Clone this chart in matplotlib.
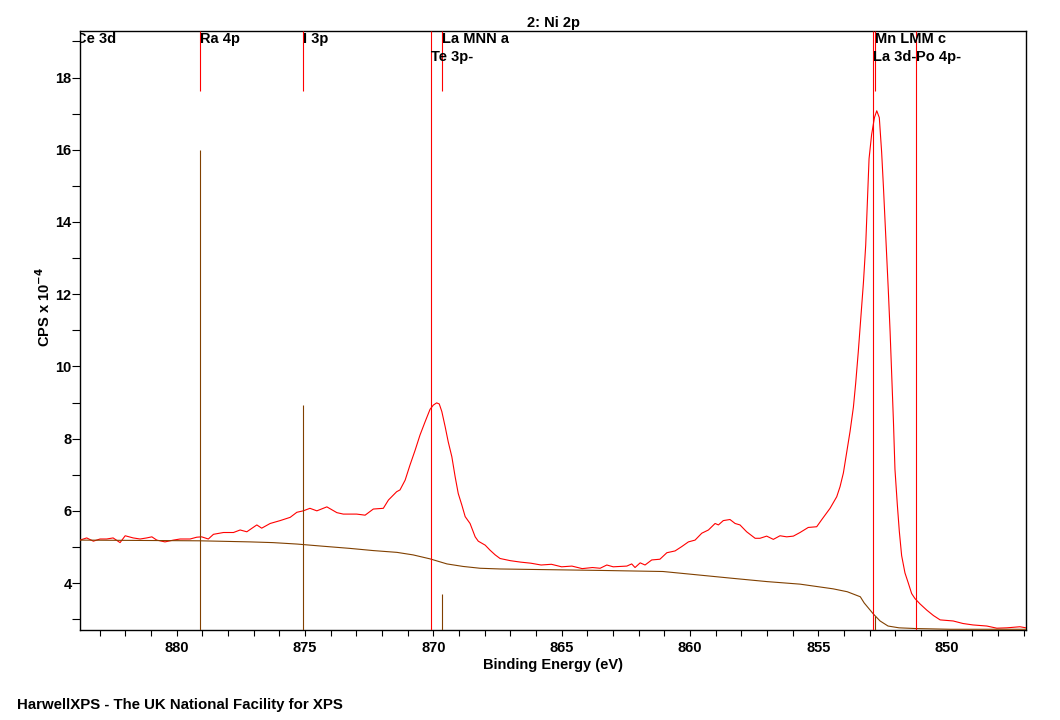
import matplotlib
matplotlib.use("Agg")
import matplotlib.pyplot as plt
from matplotlib.ticker import MultipleLocator

plt.rcParams["font.family"] = ["Liberation Sans", "DejaVu Sans"]
plt.rcParams["font.weight"] = "bold"
plt.rcParams["mathtext.default"] = "bf"

RED = "#FF0000"
BROWN = "#804000"
FS = 10.5

# Ni 2p spectrum (binding energy eV, CPS x 1e-4)
energy = [
    883.77, 883.51, 883.25, 882.99, 882.73, 882.48, 882.21, 882.01, 881.70, 881.43,
    881.17, 880.97, 880.78, 880.46, 880.13, 879.87, 879.48, 879.22, 879.03, 878.77,
    878.57, 878.18, 877.79, 877.53, 877.27, 876.88, 876.69, 876.36, 875.97, 875.58,
    875.32, 875.07, 874.81, 874.54, 874.15, 873.76, 873.51, 872.99, 872.66, 872.34,
    871.95, 871.75, 871.43, 871.30, 871.10, 870.91, 870.71, 870.52, 870.32, 870.13,
    870.00, 869.87, 869.77, 869.67, 869.54, 869.42, 869.28, 869.15, 869.03, 868.89,
    868.76, 868.57, 868.37, 868.25, 867.98, 867.79, 867.59, 867.40, 867.00, 866.60,
    866.20, 865.80, 865.40, 865.00, 864.60, 864.20, 863.80, 863.50, 863.24, 862.99,
    862.46, 862.27, 862.14, 861.94, 861.75, 861.49, 861.17, 860.90, 860.58, 860.32,
    860.06, 859.80, 859.54, 859.28, 859.02, 858.89, 858.70, 858.44, 858.24, 858.05,
    857.79, 857.46, 857.27, 857.01, 856.75, 856.49, 856.23, 855.97, 855.71, 855.39,
    855.06, 854.86, 854.54, 854.28, 854.15, 854.02, 853.89, 853.76, 853.63, 853.54,
    853.44, 853.34, 853.24, 853.15, 853.09, 853.02, 852.92, 852.81, 852.72, 852.62,
    852.53, 852.46, 852.37, 852.27, 852.20, 852.14, 852.07, 852.01, 851.92, 851.84,
    851.75, 851.62, 851.49, 851.36, 851.23, 851.03, 850.77, 850.51, 850.25, 849.74,
    849.36, 848.97, 848.43, 848.04, 847.65, 847.14, 846.90,
]
cps = [
    5.19, 5.25, 5.16, 5.22, 5.22, 5.25, 5.12, 5.31, 5.25, 5.22,
    5.25, 5.28, 5.19, 5.14, 5.19, 5.22, 5.22, 5.27, 5.28, 5.22,
    5.35, 5.40, 5.40, 5.47, 5.42, 5.61, 5.52, 5.65, 5.73, 5.82,
    5.96, 6.00, 6.07, 6.00, 6.11, 5.95, 5.91, 5.91, 5.88, 6.05,
    6.07, 6.30, 6.53, 6.58, 6.85, 7.27, 7.68, 8.10, 8.47, 8.81,
    8.93, 8.99, 8.96, 8.75, 8.33, 7.91, 7.50, 6.94, 6.48, 6.16,
    5.84, 5.65, 5.28, 5.16, 5.05, 4.91, 4.78, 4.68, 4.62, 4.58,
    4.55, 4.50, 4.52, 4.45, 4.47, 4.40, 4.43, 4.41, 4.50, 4.45,
    4.47, 4.53, 4.43, 4.56, 4.50, 4.64, 4.66, 4.84, 4.89, 5.01,
    5.14, 5.19, 5.38, 5.47, 5.65, 5.61, 5.73, 5.76, 5.65, 5.61,
    5.42, 5.24, 5.24, 5.30, 5.21, 5.31, 5.28, 5.30, 5.40, 5.54,
    5.56, 5.76, 6.07, 6.39, 6.67, 7.05, 7.63, 8.20, 8.87, 9.54,
    10.40, 11.35, 12.31, 13.36, 14.50, 15.75, 16.42, 16.89, 17.08, 16.89,
    15.94, 14.98, 13.65, 12.12, 10.97, 9.82, 8.49, 7.15, 6.19, 5.43,
    4.76, 4.28, 4.00, 3.71, 3.57, 3.42, 3.25, 3.10, 2.98, 2.95,
    2.88, 2.84, 2.81, 2.75, 2.76, 2.79, 2.76,
]

# Shirley background
bg_energy = [
    883.77, 879.09, 877.14, 876.25, 875.31, 874.30, 873.25, 872.35, 871.42, 870.79,
    870.13, 869.47, 868.84, 868.18, 867.40, 863.50, 861.05, 859.61, 858.32, 856.99,
    855.71, 854.42, 853.87, 853.36, 853.21, 852.86, 852.59, 852.28, 851.85, 851.19,
    849.86, 846.90,
]
bg_cps = [
    5.19, 5.17, 5.14, 5.12, 5.08, 5.02, 4.96, 4.90, 4.85, 4.78,
    4.67, 4.53, 4.46, 4.41, 4.39, 4.35, 4.32, 4.22, 4.13, 4.04,
    3.97, 3.84, 3.76, 3.62, 3.45, 3.15, 2.95, 2.81, 2.76, 2.74,
    2.72, 2.72,
]

# element markers
marker_labels = ["Ce 3d", "Ra 4p", "I 3p", "Te 3p-", "La MNN a", "Mn LMM c", "La 3d-", "Po 4p-"]
marker_energy = [883.92, 879.09, 875.07, 870.10, 869.67, 852.77, 852.85, 851.18]
marker_row = [0, 0, 0, 1, 0, 0, 1, 1]
marker_full = [False, False, False, True, False, False, True, True]
marker_stem = [0, 16.0, 8.93, 0, 3.70, 3.10, 0, 0]

fig = plt.figure(figsize=(10.6, 7.2), dpi=100)
ax = fig.add_axes([0.0755, 0.125, 0.8925, 0.832])

xmin, xmax = 883.77, 846.90
ymin, ymax = 2.70, 19.29

ax.plot(energy, cps, color=RED, lw=0.8, zorder=3)
ax.plot(bg_energy, bg_cps, color=BROWN, lw=0.8, zorder=3)

xt = ax.get_xaxis_transform()
for lab, e, row, full, stem in zip(marker_labels, marker_energy, marker_row,
                                   marker_full, marker_stem):
    if full:
        ax.vlines(e, 0, 1, transform=xt, color=RED, lw=0.8, zorder=4)
    else:
        ax.vlines(e, 0.90, 1, transform=xt, color=RED, lw=0.8, zorder=4)
        if stem > 0:
            ax.vlines(e, ymin, stem, color=BROWN, lw=0.8, zorder=4)
    yy = 0.987 if row == 0 else 0.957
    ax.text(e, yy, lab, transform=xt, ha="left", va="center", fontsize=FS,
            fontweight="bold", clip_on=True, zorder=5)

ax.set_xlim(xmin, xmax)
ax.set_ylim(ymin, ymax)
ax.xaxis.set_major_locator(MultipleLocator(5))
ax.xaxis.set_minor_locator(MultipleLocator(1))
ax.yaxis.set_major_locator(MultipleLocator(2))
ax.yaxis.set_minor_locator(MultipleLocator(1))
ax.tick_params(axis="x", which="both", direction="out", length=4, width=0.8,
               labelsize=FS, pad=4)
ax.tick_params(axis="y", which="both", direction="out", length=6, width=0.8,
               labelsize=FS, pad=0)
for t in ax.get_xticklabels() + ax.get_yticklabels():
    t.set_fontweight("bold")
for s in ax.spines.values():
    s.set_linewidth(1.0)

ax.set_title("2: Ni 2p", fontsize=FS, fontweight="bold", pad=3)
ax.set_xlabel("Binding Energy (eV)", fontsize=FS, fontweight="bold")
ax.xaxis.set_label_coords(0.5, -0.047)
ax.set_ylabel("CPS x 10$^{-4}$", fontsize=FS, fontweight="bold")
ax.yaxis.set_label_coords(-0.029, 0.54)

fig.text(0.016, 0.021, "HarwellXPS - The UK National Facility for XPS",
         fontsize=10.8, fontweight="bold", ha="left", va="center")

fig.savefig("out.png", dpi=100)
